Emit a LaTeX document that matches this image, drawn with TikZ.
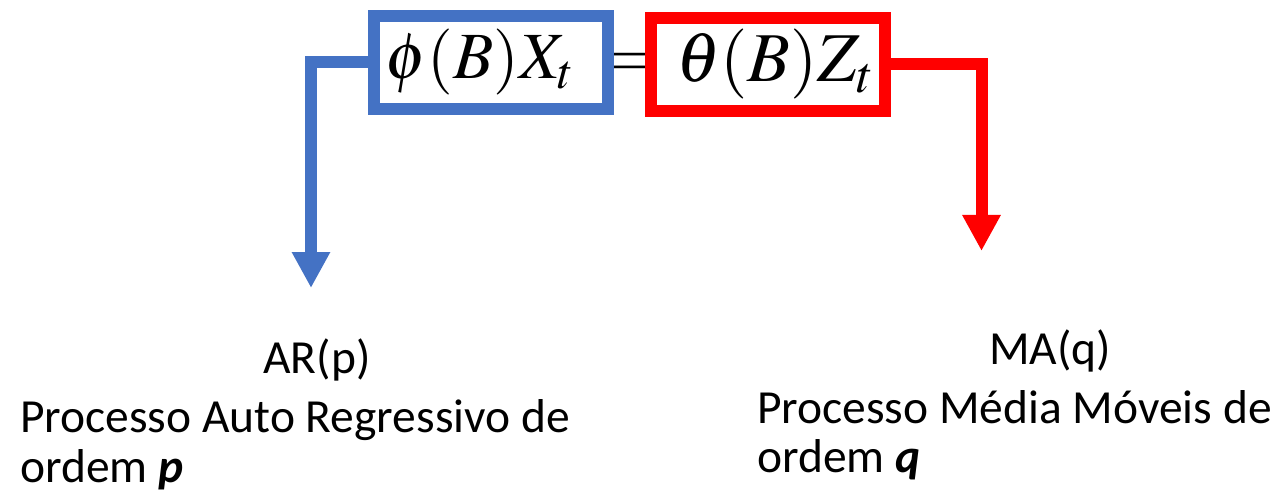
\documentclass[tikz,border=0pt]{standalone}
\usepackage{mathptmx}
\usepackage{fontspec}
\setmainfont{Carlito}
\usetikzlibrary{arrows.meta}
\definecolor{arblue}{RGB}{68,114,196}
\definecolor{mared}{RGB}{255,0,0}
\tikzset{
  eqbox/.style={draw, line width=12pt, fill=white, minimum width=234pt,
    minimum height=93pt, inner sep=0pt, outer sep=0pt,
    font=\fontsize{66}{66}\selectfont},
  link/.style={line width=12pt, -{Triangle[width=36pt,length=36pt]}},
  lbl/.style={inner sep=0pt, font=\fontsize{47.5}{50}\selectfont},
}
\begin{document}
\begin{tikzpicture}[x=1pt,y=-1pt]
\useasboundingbox (0,0) rectangle (1281,494);
% equation: phi(B) X_t = theta(B) Z_t
\node[inner sep=0pt] (eq) at (629.5,65)
  {\fontsize{66}{66}\selectfont\scalebox{0.8}[1]{$=$}};
\node[eqbox, draw=arblue] (ar) at (491,62.5) {\hspace*{-22pt}$\phi(B)X_t$};
\node[eqbox, draw=mared, font=\fontsize{70}{70}\selectfont] (ma) at (768,64.5)
  {$\theta(B)Z_t$\hspace*{-14pt}};
% connectors
\coordinate (artip) at (311,288);
\coordinate (matip) at (981.5,251);
\draw[link, arblue] (ar.west) -| (artip);
\draw[link, mared] (ma.east) -| (matip);
% labels
\node[lbl, anchor=base] (artitle) at (317,373) {AR(p)};
\node[lbl, anchor=base west] (ardesc1) at (20,432) {Processo Auto Regressivo de};
\node[lbl, anchor=base west] (ardesc2) at (20,482) {ordem \textbf{\textit{p}}};
\node[lbl, anchor=base] (matitle) at (1050,364) {MA(q)};
\node[lbl, anchor=base west] (madesc1) at (757,423) {Processo Média Móveis de};
\node[lbl, anchor=base west] (madesc2) at (757,472) {ordem \textbf{\textit{q}}};
\end{tikzpicture}
\end{document}
